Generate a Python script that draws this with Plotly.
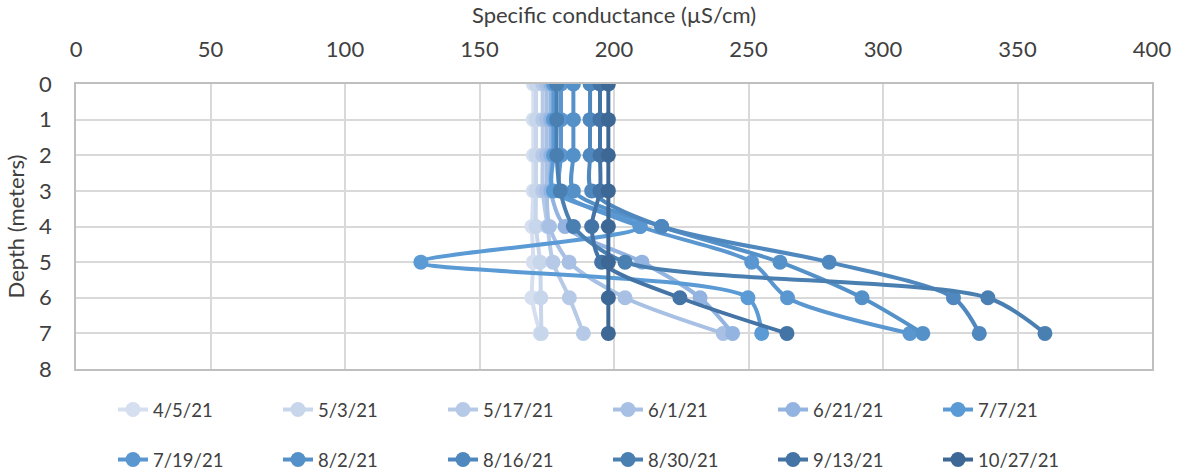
import plotly.graph_objects as go

depths = [0, 1, 2, 3, 4, 5, 6, 7]

dates = ["4/5/21", "5/3/21", "5/17/21", "6/1/21", "6/21/21", "7/7/21",
         "7/19/21", "8/2/21", "8/16/21", "8/30/21", "9/13/21", "10/27/21"]

c_0405 = [170.0, 170.0, 170.0, 170.0, 169.5, 170.0, 169.5, 172.5]
c_0503 = [171.0, 171.0, 171.0, 171.0, 171.0, 172.5, 172.8, 173.0]
c_0517 = [173.5, 173.5, 173.5, 173.5, 175.3, 177.3, 183.4, 188.6]
c_0601 = [175.0, 175.0, 175.0, 175.0, 176.0, 183.3, 204.1, 240.6]
c_0621 = [176.5, 176.5, 176.5, 176.5, 181.8, 210.4, 232.0, 244.1]
c_0707 = [177.5, 177.5, 177.5, 177.5, 209.7, 128.2, 249.8, 254.9]
c_0719 = [180.3, 180.3, 180.3, 180.3, 209.7, 251.2, 264.5, 310.0]
c_0802 = [184.9, 184.9, 184.9, 184.9, 217.7, 261.7, 292.2, 314.8]
c_0816 = [191.1, 191.1, 191.1, 191.7, 217.7, 280.0, 326.2, 335.8]
c_0830 = [178.7, 178.7, 178.7, 180.0, 184.9, 204.1, 339.0, 360.2]
c_0913 = [194.8, 194.8, 194.8, 194.8, 191.7, 195.4, 224.5, 264.3]
c_1027 = [197.9, 197.9, 197.9, 197.9, 197.9, 197.9, 197.9, 197.9]

series = [c_0405, c_0503, c_0517, c_0601, c_0621, c_0707,
          c_0719, c_0802, c_0816, c_0830, c_0913, c_1027]

colors = ["#D5DFEF", "#C8D6EC", "#B6CAE7", "#A7C0E4", "#93B4E0", "#5B9BD5",
          "#5A96D0", "#5591C9", "#4F88BE", "#4A7FB2", "#4473A5", "#3D6795"]

FONT = "Lato"
TXT = "#404040"

fig = go.Figure()
for i, (name, vals, col) in enumerate(zip(dates, series, colors)):
    fig.add_trace(go.Scatter(
        x=vals, y=depths, name=name, mode="lines+markers",
        line=dict(color=col, width=4, shape="spline", smoothing=0.8),
        marker=dict(color=col, size=15),
        legend="legend" if i < 6 else "legend2",
    ))

leg_common = dict(orientation="h", xanchor="left", yanchor="middle",
                  xref="container", yref="container",
                  font=dict(family=FONT, size=18.5, color=TXT),
                  entrywidth=120, entrywidthmode="pixels",
                  bgcolor="rgba(0,0,0,0)", itemwidth=30)

fig.update_layout(
    width=1177, height=471,
    margin=dict(l=76, r=25, t=84, b=102, autoexpand=False),
    paper_bgcolor="white", plot_bgcolor="white",
    font=dict(family=FONT, size=20, color=TXT),
    showlegend=True,
    legend=dict(x=113 / 1177, y=1 - 410 / 471, **leg_common),
    legend2=dict(x=113 / 1177, y=1 - 460 / 471, **leg_common),
    xaxis=dict(
        side="top", range=[0, 400], dtick=50, tick0=0, automargin=False,
        showgrid=True, gridcolor="#D9D9D9", gridwidth=1.5,
        showline=True, linecolor="#BFBFBF", linewidth=1.5, mirror=True,
        zeroline=False, ticks="", ticklabelstandoff=16,
        tickfont=dict(family=FONT, size=22, color=TXT),
        title=dict(text="Specific conductance (µS/cm)", standoff=6,
                   font=dict(family=FONT, size=22, color=TXT)),
    ),
    yaxis=dict(
        range=[8, 0], dtick=1, tick0=0, automargin=False,
        showgrid=True, gridcolor="#D9D9D9", gridwidth=1.5,
        showline=True, linecolor="#BFBFBF", linewidth=1.5, mirror=True,
        zeroline=False, ticks="", ticklabelstandoff=18,
        tickfont=dict(family=FONT, size=22, color=TXT),
        title=dict(text="Depth (meters)", standoff=8,
                   font=dict(family=FONT, size=22, color=TXT)),
    ),
)

fig.write_html("out.html", config={"displayModeBar": False},
               post_script="document.body.style.margin='0px';")
